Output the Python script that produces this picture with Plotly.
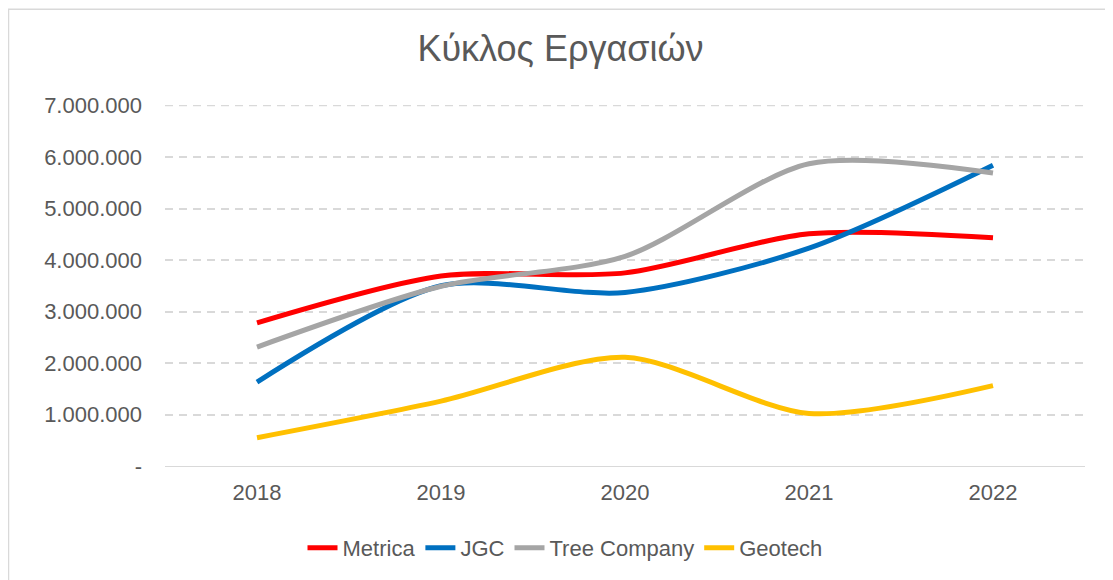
import plotly.graph_objects as go

years = ["2018", "2019", "2020", "2021", "2022"]
metrica = [2780000, 3690000, 3750000, 4510000, 4430000]
jgc = [1630000, 3500000, 3370000, 4230000, 5840000]
tree = [2310000, 3490000, 4070000, 5870000, 5690000]
geotech = [550000, 1260000, 2110000, 1020000, 1560000]

names = ["Metrica", "JGC", "Tree Company", "Geotech"]
colors = ["#FF0000", "#0070C0", "#A5A5A5", "#FFC000"]
series = [metrica, jgc, tree, geotech]

tickvals = [0, 1000000, 2000000, 3000000, 4000000, 5000000, 6000000, 7000000]
ticktext = ["-", "1.000.000", "2.000.000", "3.000.000", "4.000.000", "5.000.000", "6.000.000", "7.000.000"]

fig = go.Figure()
for n, c, s in zip(names, colors, series):
    fig.add_trace(go.Scatter(x=years, y=s, name=n, mode="lines",
                             line=dict(color=c, width=5, shape="spline", smoothing=0.8)))

W, H = 1105, 572
L, R, T, B = 157, 28, 97, 113
pw, ph = W - L - R, H - T - B

fig.update_layout(
    width=W, height=H,
    paper_bgcolor="white", plot_bgcolor="white",
    margin=dict(l=L, r=R, t=T, b=B),
    title=dict(text="Κύκλος Εργασιών", x=0.5, xanchor="center", y=1 - 40 / H, yanchor="middle",
               font=dict(family="Liberation Sans, Arial", size=36, color="#595959")),
    font=dict(family="Liberation Sans, Arial", size=22, color="#595959"),
    xaxis=dict(type="category", range=[-0.5, 4.5], showgrid=False, showline=True,
               linecolor="#D9D9D9", linewidth=1, ticks="", ticklabelstandoff=7,
               tickfont=dict(size=22, color="#595959")),
    yaxis=dict(range=[0, 7010000], tickvals=tickvals, ticktext=ticktext, showgrid=True,
               gridcolor="#D9D9D9", griddash="8px,6px", gridwidth=1.5, zeroline=False,
               showline=False, ticks="", ticklabelstandoff=22,
               tickfont=dict(size=22, color="#595959")),
    legend=dict(orientation="h", x=(565 - 165) / pw, xanchor="center",
                y=-(548 - 467) / ph, yanchor="middle",
                font=dict(size=22, color="#595959"), tracegroupgap=0),
    shapes=[
        dict(type="rect", xref="paper", yref="paper", x0=-L / pw + 0.5 / pw, x1=1 + (R + 5) / pw,
             y0=-(B + 5) / ph, y1=1 + (T - 1) / ph, line=dict(color="#D9D9D9", width=1.5)),
        dict(type="line", xref="paper", yref="y", x0=0, x1=1, y0=tickvals[-1], y1=tickvals[-1],
             line=dict(color="#D9D9D9", width=1.5, dash="8px,6px"), layer="below"),
    ],
)

fig.write_html("out.html")
